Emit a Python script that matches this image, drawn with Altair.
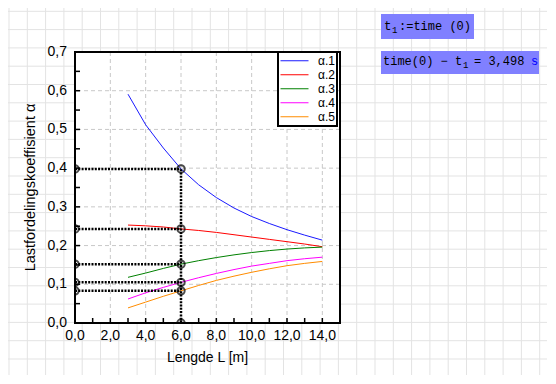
import altair as alt
import pandas as pd

# ---------------- data ----------------
L_values = [3, 4, 5, 6, 7, 8, 9, 10, 11, 12, 13, 14]
alpha_1 = [0.591, 0.512, 0.452, 0.398, 0.357, 0.324, 0.297, 0.275, 0.257, 0.241, 0.227, 0.214]
alpha_2 = [0.253, 0.251, 0.248, 0.243, 0.239, 0.234, 0.228, 0.222, 0.216, 0.210, 0.204, 0.197]
alpha_3 = [0.118, 0.129, 0.141, 0.152, 0.161, 0.169, 0.176, 0.182, 0.187, 0.191, 0.194, 0.196]
alpha_4 = [0.062, 0.078, 0.092, 0.105, 0.117, 0.128, 0.138, 0.147, 0.154, 0.161, 0.166, 0.170]
alpha_5 = [0.039, 0.054, 0.069, 0.083, 0.097, 0.110, 0.121, 0.131, 0.140, 0.148, 0.154, 0.159]
series_names = ["α.1", "α.2", "α.3", "α.4", "α.5"]
series_colors = ["#1a1aff", "#ff0000", "#008000", "#ff00ff", "#ff8c00"]
L_read = 6

x_ticks = list(range(0, 16))
y_ticks = [round(0.05 * i, 2) for i in range(15)]
x_labels = [0, 2, 4, 6, 8, 10, 12, 14]
y_labels = [0.0, 0.1, 0.2, 0.3, 0.4, 0.5, 0.6, 0.7]
x_grid = [2, 4, 6, 8, 10, 12, 14]
y_grid = [0.1, 0.2, 0.3, 0.4, 0.5, 0.6]
x_title = "Lengde L [m]"
y_title = "Lastfordelingskoeffisient α"

# Mathcad region texts: (main, subscript, rest)
note_1 = ["t", "1", ":=time (0)"]
note_2 = ["time(0) − t", "1", "= 3,498"]
note_2_unit = "s"

# ---------------- layout (styles) ----------------
W, H = 265, 271
OX, OY = 75, 52           # page position of plot origin
PAD = {"left": 67, "top": 44, "right": 207, "bottom": 52}
FONT = "Liberation Sans"
MONO = "Liberation Mono"
PAPER = "#e3e3e3"
STEP = 18.3
TICK = 5
FMT = "replace(format(datum.v, '.1f'), '.', ',')"

all_series = [alpha_1, alpha_2, alpha_3, alpha_4, alpha_5]
rows = []
for name, vals in zip(series_names, all_series):
    for l, a in zip(L_values, vals):
        rows.append({"L": l, "alpha": a, "series": name})
df = pd.DataFrame(rows)

i_read = L_values.index(L_read)
read_vals = [vals[i_read] for vals in all_series]
df_h = pd.DataFrame({"x0": 0, "x1": L_read, "a": read_vals})
df_v = pd.DataFrame({"x0": [L_read], "y0": [0.0], "y1": [max(read_vals)]})
pts = [{"L": 0, "a": a} for a in read_vals] + [{"L": L_read, "a": a} for a in read_vals] + [{"L": L_read, "a": 0.0}]
df_pts = pd.DataFrame(pts)

# paper grid (pixel offsets relative to plot origin)
px_lines = [9 - OX + STEP * k for k in range(31) if 9 - OX + STEP * k < 474]
py_lines = [11.3 - OY + STEP * k for k in range(21) if 11.3 - OY + STEP * k < 325]
df_px = pd.DataFrame({"p": px_lines})
df_py = pd.DataFrame({"p": py_lines})

xs = alt.Scale(domain=[0, 15], nice=False, zero=False)
ys = alt.Scale(domain=[0, 0.7], nice=False, zero=False)
X = lambda f: alt.X(f, type="quantitative", scale=xs, axis=None)
Y = lambda f: alt.Y(f, type="quantitative", scale=ys, axis=None)

one = pd.DataFrame({"k": [0]})


def page_text(s, px, py, size=12, color="#000000", font=MONO):
    return alt.Chart(pd.DataFrame({"t": [s]})).mark_text(
        font=font, fontSize=size, color=color, align="left", baseline="alphabetic", clip=False).encode(
        text="t:N", x=alt.value(px - OX), y=alt.value(py - OY))


def page_rect(x0, x1, y0, y1, fill):
    return alt.Chart(one).mark_rect(fill=fill, clip=False).encode(
        x=alt.value(x0 - OX), x2=alt.value(x1 - OX), y=alt.value(y0 - OY), y2=alt.value(y1 - OY))


paper_v = alt.Chart(df_px).mark_rule(color=PAPER, strokeWidth=1, clip=False).encode(
    x=alt.X("p:Q", scale=None), y=alt.value(-PAD["top"]), y2=alt.value(H + PAD["bottom"]))
paper_h = alt.Chart(df_py).mark_rule(color=PAPER, strokeWidth=1, clip=False).encode(
    y=alt.Y("p:Q", scale=None), x=alt.value(-PAD["left"]), x2=alt.value(W + PAD["right"]))

plot_bg = alt.Chart(one).mark_rect(fill="white", strokeWidth=0).encode(
    x=alt.value(0), x2=alt.value(W), y=alt.value(0), y2=alt.value(H))

box1 = page_rect(381, 474, 14, 39, "#8080ff")
box2 = page_rect(381, 539, 51, 74, "#8080ff")
notes = [
    page_text(note_1[0], 384, 30, 12.5),
    page_text(note_1[1], 392, 33, 9),
    page_text(note_1[2], 399, 30, 12),
    page_text(note_2[0], 383, 65, 12),
    page_text(note_2[1], 463, 68, 9),
    page_text(note_2[2], 474, 65, 12),
    page_text(note_2_unit, 531, 65, 12, "#0000ff"),
]

grid_x = alt.Chart(pd.DataFrame({"g": x_grid})).mark_rule(
    color="#c8c8c8", strokeDash=[4, 3], strokeWidth=1).encode(x=X("g"))
grid_y = alt.Chart(pd.DataFrame({"g": y_grid})).mark_rule(
    color="#c8c8c8", strokeDash=[4, 3], strokeWidth=1).encode(y=Y("g"))

ticks_x = alt.Chart(pd.DataFrame({"m": x_ticks})).mark_rule(color="#000000", strokeWidth=1.5).encode(
    x=X("m"), y=alt.value(H), y2=alt.value(H - TICK))
ticks_y = alt.Chart(pd.DataFrame({"m": y_ticks})).mark_rule(color="#000000", strokeWidth=1.5).encode(
    y=Y("m"), x=alt.value(0), x2=alt.value(TICK))

lab_x = alt.Chart(pd.DataFrame({"v": x_labels})).transform_calculate(t=FMT).mark_text(
    font=FONT, fontSize=14, color="#000000", align="center", baseline="middle", clip=False).encode(
    x=X("v"), y=alt.value(H + 13), text="t:N")
lab_y = alt.Chart(pd.DataFrame({"v": y_labels})).transform_calculate(t=FMT).mark_text(
    font=FONT, fontSize=14, color="#000000", align="right", baseline="middle", clip=False).encode(
    y=Y("v"), x=alt.value(-8), text="t:N")
title_x = alt.Chart(pd.DataFrame({"t": [x_title]})).mark_text(
    font=FONT, fontSize=14, color="#000000", align="center", baseline="middle", clip=False).encode(
    x=alt.value(W / 2), y=alt.value(H + 35), text="t:N")
title_y = alt.Chart(pd.DataFrame({"t": [y_title]})).mark_text(
    font=FONT, fontSize=14.5, color="#000000", align="center", baseline="middle", angle=270, clip=False).encode(
    x=alt.value(-44), y=alt.value(H / 2), text="t:N")

lines = alt.Chart(df).mark_line(strokeWidth=1).encode(
    x=X("L"), y=Y("alpha"),
    color=alt.Color("series:N", scale=alt.Scale(domain=series_names, range=series_colors),
                    legend=alt.Legend(title=None, orient="none", legendX=203, legendY=0,
                                      symbolType="stroke", symbolSize=784, symbolStrokeWidth=1,
                                      clipHeight=13.5, rowPadding=0, labelOffset=9, padding=2,
                                      labelFont=FONT, labelFontSize=12, labelColor="#000000",
                                      fillColor="white", strokeColor="#000000")),
)

dot_h = alt.Chart(df_h).mark_rule(color="#000000", strokeWidth=2.5, strokeDash=[2, 1.3]).encode(
    x=X("x0"), x2="x1:Q", y=Y("a"))
dot_v = alt.Chart(df_v).mark_rule(color="#000000", strokeWidth=2.5, strokeDash=[2, 1.3]).encode(
    x=X("x0"), y=Y("y0"), y2="y1:Q")
circles = alt.Chart(df_pts).mark_point(shape="circle", size=55, filled=False, color="#000000",
                                       strokeWidth=2, clip=True).encode(x=X("L"), y=Y("a"))

frame = alt.Chart(one).mark_rect(fillOpacity=0, stroke="#000000", strokeWidth=2).encode(
    x=alt.value(0), x2=alt.value(W), y=alt.value(0), y2=alt.value(H))

chart = alt.layer(
    paper_v, paper_h, plot_bg, box1, box2, *notes,
    grid_x, grid_y, lines, dot_h, dot_v, circles, frame, ticks_x, ticks_y,
    lab_x, lab_y, title_x, title_y,
).properties(
    width=W, height=H, padding=PAD,
    autosize=alt.AutoSizeParams(type="none"),
).configure_view(stroke=None).configure_legend(strokeWidth=2)

chart.save("out.html", embed_options={"renderer": "svg", "actions": False})
